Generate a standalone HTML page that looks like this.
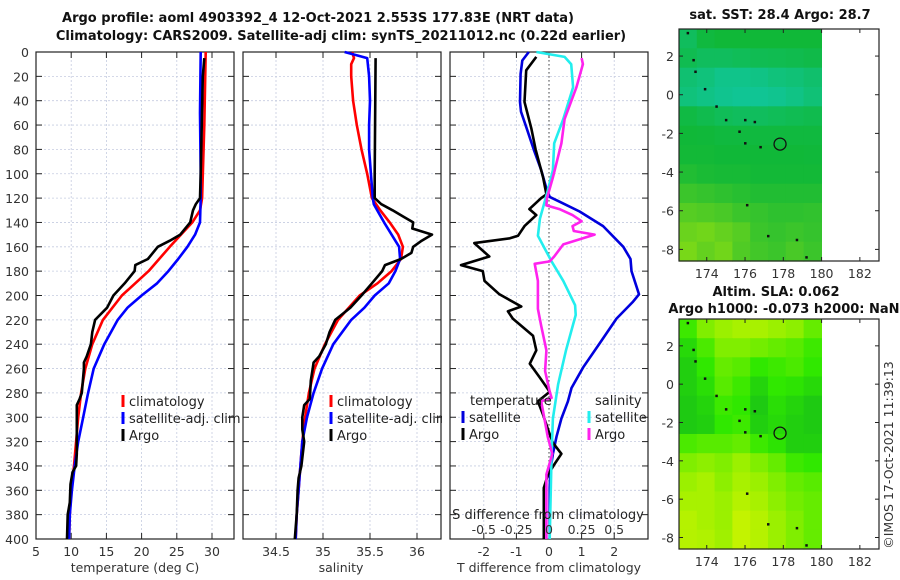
<!DOCTYPE html>
<html><head><meta charset="utf-8">
<style>
html,body{margin:0;padding:0;background:#fff;}
svg{display:block;font-family:"DejaVu Sans","Liberation Sans",sans-serif;}
.t{font-size:12.5px;fill:#333;}
.b{font-size:13px;font-weight:bold;fill:#111;}
</style></head>
<body>
<svg id="c" width="900" height="580" viewBox="0 0 900 580" xmlns="http://www.w3.org/2000/svg"></svg>
<script>
// ---------- data ----------
const depthTicks = [0,20,40,60,80,100,120,140,160,180,200,220,240,260,280,300,320,340,360,380,400];
const tempTicks = [5,10,15,20,25,30];
const salTicks = [34.5,35,35.5,36];
const tdiffTicks = [-2,-1,0,1,2];
const sdiffTicks = [-0.5,-0.25,0,0.25,0.5];
const sdiffLabels = ['-0.5','-0.25','0','0.25','0.5'];

const tClimDepth = [0,60,120,130,140,160,180,200,220,240,260,280,300,320,340,360,380,400];
const tClimVal   = [29.1,28.9,28.6,28.3,27.2,24.0,21.0,17.2,14.5,13.0,12.0,11.4,11.0,10.7,10.4,10.0,9.8,9.7];
const tSatDepth = [0,50,100,120,140,150,160,170,180,190,200,210,220,240,260,280,300,320,340,360,380,400];
const tSatVal   = [28.4,28.3,28.4,28.4,28.3,27.6,26.5,25.2,23.8,22.2,20.0,18.0,16.6,14.7,13.2,12.4,11.7,11.0,10.5,10.1,9.8,9.7];
const tArgoDepth = [5,20,100,120,125,130,140,150,155,160,170,175,180,190,200,210,220,230,240,250,255,260,280,285,290,300,320,330,340,345,355,370,380,400];
const tArgoVal   = [28.9,28.7,28.4,28.3,27.7,27.3,26.9,25.5,24.0,22.3,20.9,19.1,19.0,17.6,16.0,15.1,13.4,13.0,12.8,12.2,11.8,11.8,11.5,11.2,10.8,10.8,10.8,10.8,10.7,10.2,9.9,9.8,9.5,9.4];

const sClimDepth = [0,5,10,20,40,60,80,100,120,130,140,150,160,170,180,190,200,220,240,260,280,300,320,340,360,380,400];
const sClimVal   = [35.31,35.33,35.30,35.30,35.32,35.36,35.41,35.47,35.52,35.61,35.71,35.80,35.85,35.83,35.73,35.58,35.39,35.16,35.02,34.91,34.85,34.81,34.78,34.76,34.74,34.72,34.71];
const sSatDepth = [0,5,20,40,60,80,100,120,125,140,160,170,180,190,200,210,220,240,260,280,300,320,340,360,380,400];
const sSatVal   = [35.23,35.47,35.49,35.50,35.49,35.49,35.51,35.53,35.54,35.65,35.81,35.82,35.77,35.70,35.55,35.44,35.30,35.11,34.99,34.90,34.83,34.78,34.76,34.74,34.72,34.71];
const sArgoDepth = [5,100,120,125,130,135,140,145,150,155,160,165,170,175,180,190,200,210,220,230,240,250,255,260,270,285,290,300,310,320,340,350,360,380,400];
const sArgoVal   = [35.56,35.55,35.55,35.62,35.74,35.85,35.96,35.95,36.16,36.05,35.96,35.94,35.83,35.66,35.63,35.52,35.41,35.29,35.13,35.07,35.03,34.96,34.90,34.89,34.87,34.86,34.80,34.78,34.78,34.80,34.77,34.74,34.73,34.72,34.70];

const dTSatDepth = [0,7,18,41,49,63,80,97,112,119,123,131,143,160,170,180,199,205,219,239,259,276,287,301,316,330,344,358,400];
const dTSatVal   = [-0.62,-0.82,-0.87,-0.89,-0.86,-0.68,-0.47,-0.24,-0.08,0.02,0.33,0.94,1.66,2.28,2.50,2.53,2.76,2.58,2.07,1.56,1.05,0.69,0.58,0.38,0.23,0.12,0.04,0.02,0.02];
const dTArgoDepth = [4,15,41,63,80,103,117,120,129,134,143,151,153,157,168,175,180,188,199,209,213,219,233,245,256,267,279,287,298,310,321,330,338,347,358,400];
const dTArgoVal   = [-0.39,-0.70,-0.75,-0.54,-0.41,-0.18,-0.08,-0.24,-0.60,-0.39,-0.75,-0.95,-1.20,-2.29,-1.83,-2.70,-2.03,-1.98,-1.52,-0.85,-1.26,-1.11,-0.49,-0.39,-0.59,-0.29,0.02,-0.34,-0.18,-0.03,0.12,0.38,0.18,-0.03,-0.16,-0.16];
const dSSatDepth = [0,4,10,29,55,75,97,114,137,151,172,188,208,216,245,273,301,330,400];
const dSSatVal   = [-0.097,0.12,0.17,0.185,0.11,0.04,0.03,-0.01,-0.07,-0.085,0.02,0.11,0.20,0.205,0.13,0.07,0.03,0.02,0.005];
const dSArgoDepth = [5,10,29,55,75,103,120,126,129,134,139,143,147,150,158,168,172,174,188,211,225,245,262,279,284,287,301,316,330,347,400];
const dSArgoVal   = [0.25,0.26,0.21,0.12,0.095,0.03,-0.015,-0.02,0.08,0.18,0.25,0.18,0.19,0.35,0.11,0.04,0.005,-0.11,-0.085,-0.085,-0.06,-0.02,-0.03,0.005,0.02,-0.06,-0.035,-0.01,0.025,-0.02,-0.02];

// maps: rows from lat 3.4 downward (1 deg each), columns from 172.55 east (0.93 deg each)
const latTicks = [2,0,-2,-4,-6,-8];
const lonTicks = [174,176,178,180,182];
const sstGrid = [
 [0.30,0.42,0.45,0.45,0.45,0.45,0.45,0.45],
 [0.35,0.30,0.30,0.32,0.34,0.35,0.36,0.38],
 [0.22,0.18,0.12,0.12,0.14,0.18,0.20,0.24],
 [0.18,0.14,0.10,0.08,0.08,0.10,0.14,0.20],
 [0.40,0.36,0.32,0.30,0.30,0.32,0.34,0.36],
 [0.45,0.44,0.42,0.42,0.42,0.42,0.42,0.42],
 [0.46,0.46,0.45,0.45,0.45,0.45,0.45,0.44],
 [0.50,0.48,0.47,0.47,0.46,0.46,0.46,0.46],
 [0.58,0.56,0.54,0.52,0.50,0.50,0.50,0.50],
 [0.66,0.64,0.62,0.58,0.56,0.54,0.54,0.55],
 [0.72,0.74,0.70,0.66,0.58,0.56,0.58,0.56],
 [0.76,0.70,0.74,0.64,0.60,0.58,0.62,0.58]];
const slaGrid = [
 [0.45,0.70,0.80,0.85,0.85,0.80,0.75,0.60],
 [0.25,0.50,0.70,0.70,0.65,0.60,0.55,0.45],
 [0.15,0.40,0.60,0.55,0.40,0.45,0.50,0.40],
 [0.15,0.30,0.55,0.45,0.20,0.40,0.35,0.25],
 [0.10,0.20,0.45,0.40,0.10,0.30,0.20,0.10],
 [0.10,0.15,0.40,0.45,0.15,0.25,0.15,0.10],
 [0.50,0.55,0.55,0.60,0.45,0.35,0.15,0.15],
 [0.70,0.75,0.70,0.80,0.70,0.60,0.45,0.40],
 [0.80,0.85,0.75,0.85,0.80,0.70,0.60,0.55],
 [0.85,0.85,0.80,0.90,0.85,0.75,0.65,0.60],
 [0.90,0.85,0.80,0.95,0.90,0.80,0.70,0.60],
 [0.90,0.88,0.82,0.95,0.90,0.80,0.70,0.60]];
const argoLon = [177.83];
const argoLat = [-2.553];

// ---------- helpers ----------
const NS = 'http://www.w3.org/2000/svg';
const svg = document.getElementById('c');
function mk(tag, attrs, parent){
  const e = document.createElementNS(NS, tag);
  for (const k in attrs) e.setAttribute(k, attrs[k]);
  (parent||svg).appendChild(e);
  return e;
}
function txt(x,y,s,cls,anchor,parent){
  const e = mk('text',{x:x,y:y,class:cls,'text-anchor':anchor||'middle'},parent);
  e.textContent = s; return e;
}
const TOP=52, BOT=539;
const yD = d => TOP + d*(BOT-TOP)/400;
const xT = t => 36 + (t-5)*7.04;
const xS = s => 323 + (s-35)*94;
const xDT = t => 549 + t*32.6;
const xDS = s => xDT(4*s);

function panel(name,L,R,xTicks,xf,labelY){
  const g = mk('g',{});
  
  
  depthTicks.forEach(d=>{
    if(d>0&&d<400){
      mk('line',{x1:L,x2:R,y1:yD(d),y2:yD(d),stroke:'#c5cce0','stroke-width':0.8,'stroke-dasharray':'2,2'},g);
    }
    mk('line',{x1:L,x2:L+6,y1:yD(d),y2:yD(d),stroke:'#222','stroke-width':1},g);
    mk('line',{x1:R-6,x2:R,y1:yD(d),y2:yD(d),stroke:'#222','stroke-width':1},g);
  });
  xTicks.forEach(v=>{
    const x=xf(v);
    mk('line',{x1:x,x2:x,y1:TOP,y2:BOT,stroke:'#c5cce0','stroke-width':0.8,'stroke-dasharray':'2,2'},g);
    mk('line',{x1:x,x2:x,y1:BOT-6,y2:BOT,stroke:'#222','stroke-width':1},g);
    mk('line',{x1:x,x2:x,y1:TOP,y2:TOP+6,stroke:'#222','stroke-width':1},g);
    if(labelY) { const t=txt(x,labelY,String(v),'t','middle',g);   }
  });
  mk('rect',{x:L,y:TOP,width:R-L,height:BOT-TOP,fill:'none',stroke:'#222','stroke-width':1.2},g);
  return g;
}
function line(name,depths,vals,xf,color,parent){
  const pts = depths.map((d,i)=>xf(vals[i]).toFixed(1)+','+yD(d).toFixed(1)).join(' ');
  const p = mk('polyline',{points:pts,fill:'none',stroke:color,'stroke-width':2.6,'stroke-linejoin':'round'},parent);
  
  
}
function legendEntry(x,y,color,label,name){
  const g=mk('g',{});
  
  
  mk('rect',{x:x-1.5,y:y-11,width:3,height:12,fill:color},g);
  txt(x+6,y,label,'t','start',g).setAttribute('style','font-size:13px;fill:#222');
}

// ---------- titles ----------
const t1=txt(318,22,'Argo profile: aoml 4903392_4 12-Oct-2021 2.553S 177.83E (NRT data)','b');
 
const t2=txt(341,40,'Climatology: CARS2009. Satellite-adj clim: synTS_20211012.nc (0.22d earlier)','b');
 

// ---------- panel 1 ----------
const p1 = panel('temperature-panel',36,234,tempTicks,xT,556);
depthTicks.forEach(d=>{ const t=txt(29,yD(d)+5,String(d),'t','end');   });
line('temp-climatology-line',tClimDepth,tClimVal,xT,'#ff0000',p1);
line('temp-satellite-line',tSatDepth,tSatVal,xT,'#0000ff',p1);
line('temp-argo-line',tArgoDepth,tArgoVal,xT,'#000000',p1);
const x1=txt(135,572,'temperature (deg C)','t');  
legendEntry(123,406,'#ff0000','climatology','legend-climatology');
legendEntry(123,423,'#0000ff','satellite-adj. clim','legend-satellite');
legendEntry(123,440,'#000000','Argo','legend-argo');

// ---------- panel 2 ----------
const p2 = panel('salinity-panel',243,441,salTicks,xS,556);
line('sal-climatology-line',sClimDepth,sClimVal,xS,'#ff0000',p2);
line('sal-satellite-line',sSatDepth,sSatVal,xS,'#0000ff',p2);
line('sal-argo-line',sArgoDepth,sArgoVal,xS,'#000000',p2);
const x2=txt(341,572,'salinity','t');  
legendEntry(331,406,'#ff0000','climatology','legend-climatology');
legendEntry(331,423,'#0000ff','satellite-adj. clim','legend-satellite');
legendEntry(331,440,'#000000','Argo','legend-argo');
mk('rect',{x:442,y:410,width:7,height:16,fill:'#fff'});

// ---------- panel 3 ----------
const p3 = panel('difference-panel',450,648,tdiffTicks,xDT,556);
mk('line',{x1:549,x2:549,y1:TOP,y2:BOT,stroke:'#444','stroke-width':1,'stroke-dasharray':'1.5,2.5'},p3);
line('dt-satellite-line',dTSatDepth,dTSatVal,xDT,'#0000dd',p3);
line('dt-argo-line',dTArgoDepth,dTArgoVal,xDT,'#000000',p3);
line('ds-satellite-line',dSSatDepth,dSSatVal,xDS,'#22eeee',p3);
line('ds-argo-line',dSArgoDepth,dSArgoVal,xDS,'#ff22ee',p3);
const x3=txt(549,572,'T difference from climatology','t');  
const s3=txt(548,519,'S difference from climatology','t');  
s3.setAttribute('style','font-size:13px;fill:#222');
sdiffTicks.forEach((v,i)=>{ const t=txt(xDS(v),534,sdiffLabels[i],'t');   });
const lt=txt(470,405,'temperature','t','start');   lt.setAttribute('style','font-size:13px;fill:#222');
const ls=txt(595,405,'salinity','t','start');   ls.setAttribute('style','font-size:13px;fill:#222');
legendEntry(463,422,'#0000dd','satellite','legend-t-satellite');
legendEntry(463,439,'#000000','Argo','legend-t-argo');
legendEntry(589,422,'#22eeee','satellite','legend-s-satellite');
legendEntry(589,439,'#ff22ee','Argo','legend-s-argo');

// ---------- maps ----------
const LON0=172.55, LON1=183.0, DLON=0.93;
function lerp(a,b,t){return a.map((v,i)=>Math.round(v+(b[i]-v)*t));}
function sstColor(v){ const c0=[16,200,168],c1=[16,184,56],c2=[200,240,0];
  return 'rgb('+(v<0.45?lerp(c0,c1,v/0.45):lerp(c1,c2,(v-0.45)/0.55)).join(',')+')'; }
function slaColor(v){ const c0=[24,192,24],c1=[48,232,0],c2=[208,244,0];
  return 'rgb('+(v<0.4?lerp(c0,c1,v/0.4):lerp(c1,c2,(v-0.4)/0.6)).join(',')+')'; }
function drawMap(name,top,bot,grid,colorf){
  const L=679,R=879;
  const LAT0=3.4, LAT1=-8.6;
  const px = lon => L + (lon-LON0)*(R-L)/(LON1-LON0);
  const py = lat => top + (LAT0-lat)*(bot-top)/(LAT0-LAT1);
  const g=mk('g',{});
  
  
  grid.forEach((row,r)=>row.forEach((v,c)=>{
    const lo=LON0+c*DLON, la=LAT0-r;
    const cell=mk('rect',{x:px(lo).toFixed(1),y:py(la).toFixed(1),width:(px(lo+DLON)-px(lo)+0.6).toFixed(1),height:(py(la-1)-py(la)+0.6).toFixed(1),fill:colorf(v)},g);
    
    
  }));
  [[173.0,3.2],[173.3,1.8],[173.4,1.2],[173.9,0.3],[174.5,-0.6],[175.0,-1.3],[175.7,-1.9],[176.0,-1.3],[176.5,-1.4],[176.0,-2.5],[176.8,-2.7],[176.1,-5.7],[177.2,-7.3],[178.7,-7.5],[179.2,-8.4]].forEach(p=>{
    const d=mk('rect',{x:px(p[0])-1,y:py(p[1])-1,width:2.5,height:2.5,fill:'#111'},g);
    
    
  });
  argoLon.forEach((lo,i)=>{
    const c=mk('circle',{cx:px(lo),cy:py(argoLat[i]),r:6,fill:'none',stroke:'#111','stroke-width':1.3},g);
    
    
  });
  mk('rect',{x:L,y:top,width:R-L,height:bot-top,fill:'none',stroke:'#222','stroke-width':1.2},g);
  latTicks.forEach(la=>{
    const y=py(la);
    mk('line',{x1:L,x2:L+4,y1:y,y2:y,stroke:'#222'},g); mk('line',{x1:R-4,x2:R,y1:y,y2:y,stroke:'#222'},g);
    const t=txt(674,y+5,String(la),'t','end',g);  
  });
  lonTicks.forEach(lo=>{
    const x=px(lo);
    mk('line',{x1:x,x2:x,y1:bot-4,y2:bot,stroke:'#222'},g); mk('line',{x1:x,x2:x,y1:top,y2:top+4,stroke:'#222'},g);
    const t=txt(x,bot+17,String(lo),'t','middle',g);  
  });
}
drawMap('sst-map',29,261,sstGrid,sstColor);
drawMap('sla-map',319,549,slaGrid,slaColor);
const m1=txt(780,19,'sat. SST: 28.4 Argo: 28.7','b');  
const m2=txt(776,296,'Altim. SLA: 0.062','b');  
const m3=txt(784,313,'Argo h1000: -0.073 h2000: NaN','b');  
const cp=txt(0,0,'©IMOS 17-Oct-2021 11:39:13','t','middle');
cp.setAttribute('transform','translate(893,455) rotate(-90)');
 
</script>
</body></html>
